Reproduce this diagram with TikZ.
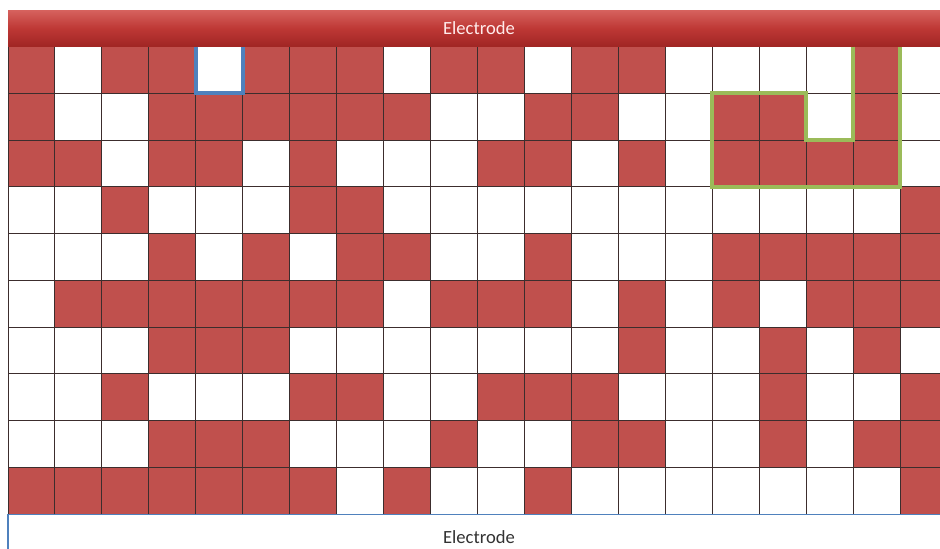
\documentclass[tikz,border=0pt]{standalone}
\usepackage{fontspec}
\setmainfont{Carlito}
\definecolor{cell0}{RGB}{255,255,255}
\definecolor{cell1}{RGB}{192,80,77}
\definecolor{elecTop}{RGB}{214,98,94}
\definecolor{elecMid}{RGB}{190,56,53}
\definecolor{elecBot}{RGB}{160,38,36}
\definecolor{gridLine}{RGB}{60,45,45}
\definecolor{blueMark}{RGB}{79,129,189}
\definecolor{greenMark}{RGB}{155,187,89}

\begin{document}
\begin{tikzpicture}[x=0.5pt,y=-0.5pt]
\tikzset{
  cellnode/.style={rectangle,draw=gridLine,line width=0.5pt,inner sep=0pt,outer sep=0pt,
    minimum width=23.475pt,minimum height=23.375pt},
  electrode/.style={rectangle,inner sep=0pt,outer sep=0pt,minimum width=471pt,
    font=\fontsize{9.3}{11}\selectfont},
  marker/.style={line width=2pt,line join=miter}
}
\useasboundingbox (0,0) rectangle (940,548);
\clip (0,0) rectangle (940,548);
\foreach \row [count=\r from 0] in {
  {1,0,1,1,0,1,1,1,0,1,1,0,1,1,0,0,0,0,1,0},
  {1,0,0,1,1,1,1,1,1,0,0,1,1,0,0,1,1,0,1,0},
  {1,1,0,1,1,0,1,0,0,0,1,1,0,1,0,1,1,1,1,0},
  {0,0,1,0,0,0,1,1,0,0,0,0,0,0,0,0,0,0,0,1},
  {0,0,0,1,0,1,0,1,1,0,0,1,0,0,0,1,1,1,1,1},
  {0,1,1,1,1,1,1,1,0,1,1,1,0,1,0,1,0,1,1,1},
  {0,0,0,1,1,1,0,0,0,0,0,0,0,1,0,0,1,0,1,0},
  {0,0,1,0,0,0,1,1,0,0,1,1,1,0,0,0,1,0,0,1},
  {0,0,0,1,1,1,0,0,0,1,0,0,1,1,0,0,1,0,1,1},
  {1,1,1,1,1,1,1,0,1,0,0,1,0,0,0,0,0,0,0,1}}
  \foreach \v [count=\c from 0] in \row
    \node[cellnode,fill=cell\v] (cell_\r_\c) at ({8+46.95*(\c+0.5)},{46.5+46.75*(\r+0.5)}) {};
\node[electrode,minimum height=18.25pt,top color=elecTop,bottom color=elecBot,middle color=elecMid,
  text=white!92!red] (elec_top) at (479,28.25) {Electrode};
\node[electrode,minimum height=23pt,draw=blueMark,line width=0.6pt,fill=white,
  text=black!80] (elec_bot) at (479,537.5) {Electrode};
\draw[marker,blueMark] (cell_0_4.north west) -- (cell_0_4.south west)
  -- (cell_0_4.south east) -- (cell_0_4.north east);
\draw[marker,greenMark] (cell_0_18.north west) -- (cell_1_18.south west)
  -- (cell_1_17.south west) -- (cell_1_17.north west) -- (cell_1_15.north west)
  -- (cell_2_15.south west) -- (cell_2_18.south east) -- (cell_0_18.north east);
\end{tikzpicture}
\end{document}
